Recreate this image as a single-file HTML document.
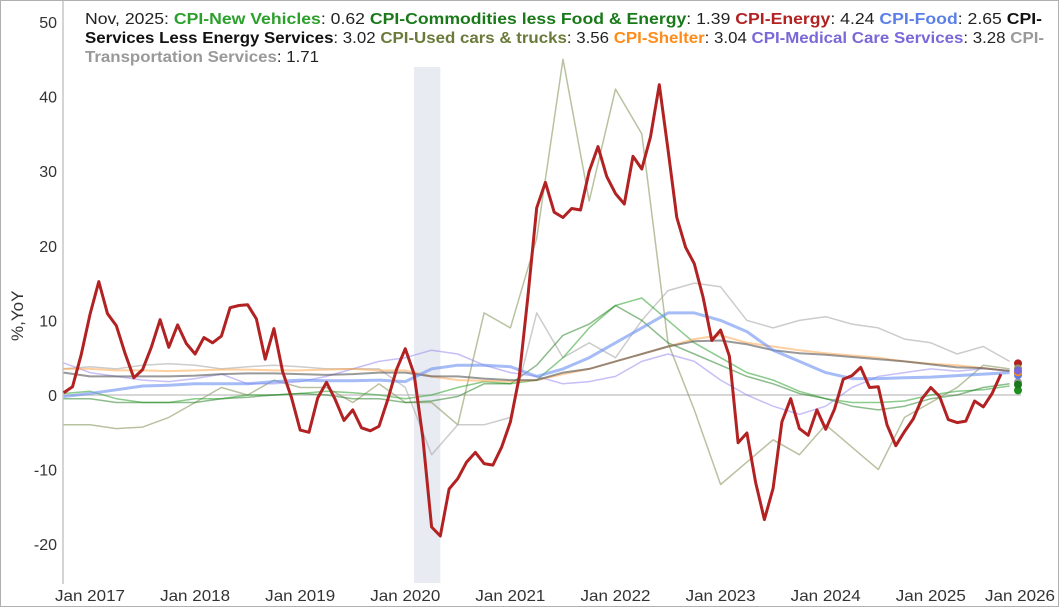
<!DOCTYPE html>
<html><head><meta charset="utf-8"><style>
html,body{margin:0;padding:0;background:#fff}
#wrap{position:relative;width:1057px;height:605px;border:1px solid #b0b0b0;overflow:hidden;font-family:"Liberation Sans",sans-serif}
</style></head><body>
<div id="wrap">
<svg id="chart" width="1057" height="605">
<g id="legend" font-family="Liberation Sans, sans-serif" font-size="15.5" fill="#222">
<text x="84" y="23" textLength="957" lengthAdjust="spacingAndGlyphs">Nov, 2025: <tspan font-weight="bold" fill="#2ca02c">CPI-New Vehicles</tspan>: 0.62 <tspan font-weight="bold" fill="#1a7a1a">CPI-Commodities less Food &amp; Energy</tspan>: 1.39 <tspan font-weight="bold" fill="#b22222">CPI-Energy</tspan>: 4.24 <tspan font-weight="bold" fill="#5b7fe8">CPI-Food</tspan>: 2.65 <tspan font-weight="bold" fill="#111">CPI-</tspan></text>
<text x="84" y="42" textLength="959" lengthAdjust="spacingAndGlyphs"><tspan font-weight="bold" fill="#111">Services Less Energy Services</tspan>: 3.02 <tspan font-weight="bold" fill="#6b7a3a">CPI-Used cars &amp; trucks</tspan>: 3.56 <tspan font-weight="bold" fill="#ff8c1a">CPI-Shelter</tspan>: 3.04 <tspan font-weight="bold" fill="#7b68d8">CPI-Medical Care Services</tspan>: 3.28 <tspan font-weight="bold" fill="#999">CPI-</tspan></text>
<text x="84" y="61" textLength="234" lengthAdjust="spacingAndGlyphs"><tspan font-weight="bold" fill="#999">Transportation Services</tspan>: 1.71</text>
</g>
</svg>
</div>
<script>
// months since Jan 2017 for first point (Oct 2016 = -3)
const startMonth = -3;
const yTicks = [-20,-10,0,10,20,30,40,50];
const xTickLabels = ["Jan 2017","Jan 2018","Jan 2019","Jan 2020","Jan 2021","Jan 2022","Jan 2023","Jan 2024","Jan 2025","Jan 2026"];
const energy = [0.3,1.1,5.4,10.8,15.2,10.9,9.3,5.6,2.3,3.4,6.4,10.1,6.4,9.4,6.9,5.5,7.7,7.0,7.9,11.7,12.0,12.1,10.2,4.8,8.9,3.1,-0.3,-4.7,-5.0,-0.4,1.7,-0.6,-3.4,-2.0,-4.4,-4.8,-4.2,-0.6,3.4,6.2,2.8,-5.7,-17.7,-18.9,-12.6,-11.2,-9.0,-7.7,-9.2,-9.4,-7.0,-3.6,2.4,13.2,25.1,28.5,24.5,23.8,25.0,24.8,30.0,33.3,29.3,27.0,25.6,32.0,30.3,34.6,41.6,32.9,23.8,19.8,17.6,13.1,7.3,8.7,5.2,-6.4,-5.1,-11.7,-16.7,-12.5,-3.6,-0.5,-4.5,-5.4,-2.0,-4.6,-1.9,2.1,2.6,3.7,1.0,1.1,-4.0,-6.8,-4.9,-3.2,-0.5,1.0,-0.2,-3.3,-3.7,-3.5,-0.8,-1.6,0.2,2.8];
// quarterly series: Oct 2016, Jan 2017, ... Jul 2025, then last point
const usedCars = [-4,-4,-4.5,-4.3,-3,-1,1,0,2,1,1,-1,1.5,-1,-1,-4,11,9,21,45,26,41,35,7,-2,-12,-9,-6,-8,-4,-7,-10,-3,-1,1,4,3.5];
const transport = [3.5,3.8,3.5,4,4.2,4,3.5,3.8,4,3.8,3.5,3.5,3.5,1,-8,-4,-4,-3,11,5,7,5,10,14,15,14.5,10,9,10,10.5,9.5,9,7.5,7,5.5,6.5,4.5];
const newVehicles = [0.2,0.5,-0.5,-1,-1,-0.5,-0.5,0,0,0.2,0.5,0.3,0,-0.5,0,1,1.8,1.5,2,5,9,12,13,10,7,5,3,2,0.5,-0.5,-1,-1,-0.8,0,0.5,0.7,1.2];
const commodities = [-0.5,-0.5,-1,-1,-1,-1,-0.5,-0.3,0,0.2,0,-0.5,-0.5,-1,-0.8,-0.2,1.5,1.5,4,8,9.5,12,10,7,5.5,4,2.5,1.5,0.2,-0.5,-1.5,-2,-1.5,-0.5,0,1,1.5];
const food = [-0.2,0.2,0.7,1.2,1.3,1.5,1.5,1.5,1.8,2,1.9,1.9,2,1.8,3.5,4,4,3.8,2.5,3.5,5,7,9,11,11,10,8.5,6,4.5,3,2.2,2.2,2.3,2.4,2.6,2.8,3];
const services = [3,2.5,2.5,2.5,2.5,2.6,2.8,2.9,2.9,2.8,2.7,2.8,3,3,2.5,2.5,2.2,2,2,3,3.5,4.5,5.5,6.5,7.2,7.3,6.8,6,5.6,5.4,5.1,4.8,4.5,4.1,3.7,3.6,3.2];
const shelter = [3.5,3.5,3.3,3.3,3.2,3.3,3.4,3.4,3.3,3.3,3.4,3.5,3.3,3.3,2.5,2,1.9,1.8,2,2.8,3.5,4.5,5.5,6.5,7.5,8,7,6.5,6,5.6,5.3,5,4.5,4.2,4,3.6,3.2];
const medical = [4.3,3,2.5,2,1.8,2.2,2.8,1.5,1.5,1.8,2.5,3.5,4.5,5,6,5.5,4,3,2.5,1.5,1.8,2.5,4.5,5.5,4.5,2,0,-1.5,-2.6,-1.5,1,2.5,3,3.5,3.2,3.5,3.3];
const endValues = [4.24,3.56,1.71,0.62,1.39,2.65,3.02,3.04,3.28];

const NS="http://www.w3.org/2000/svg";
const svg=document.getElementById('chart');
const legendG=document.getElementById('legend');
const x0=89, pxMonth=105.1/12, yZero=394, pxUnit=7.46;
const xS=m=>x0+m*pxMonth;
const yS=v=>yZero-v*pxUnit;
function mk(tag,attrs){const e=document.createElementNS(NS,tag);for(const k in attrs)e.setAttribute(k,attrs[k]);svg.insertBefore(e,legendG);return e;}

const rec=mk('rect',{x:xS(37),y:66,width:xS(40)-xS(37),height:516,fill:'#e8ebf2'});



const yAxis=mk('line',{x1:62,y1:0,x2:62,y2:583,stroke:'#aaa','stroke-width':1});


const zl=mk('line',{x1:62,y1:yS(0),x2:1020,y2:yS(0),stroke:'#c8c8c8','stroke-width':1.5});


yTicks.forEach(v=>{
  const t=mk('text',{x:56,y:yS(v)+6,'text-anchor':'end','font-size':16,fill:'#333','font-family':'Liberation Sans, sans-serif'});
  t.textContent=v;
  
  
});
const yt=mk('text',{x:0,y:0,transform:'translate(22,340) rotate(-90)','font-size':17,fill:'#333','font-family':'Liberation Sans, sans-serif'});
yt.textContent='%,YoY';


xTickLabels.forEach((l,i)=>{
  let cx=xS(i*12); if(cx>1019)cx=1019;
  const t=mk('text',{x:cx,y:600,'text-anchor':'middle','font-size':16,fill:'#333','font-family':'Liberation Sans, sans-serif','textLength':70,'lengthAdjust':'spacingAndGlyphs'});
  t.textContent=l;
  
  
});

function drawLine(vals,step,color,w,op,name){
  const pts=vals.map((v,i)=>{let m=startMonth+i*step; if(m>105)m=105; return xS(m).toFixed(1)+','+yS(v).toFixed(1);}).join(' ');
  const p=mk('polyline',{points:pts,fill:'none',stroke:color,'stroke-width':w,'stroke-opacity':op,'stroke-linejoin':'round'});
  
  
}
drawLine(usedCars,3,'#8a9a60',1.5,0.6,'used-cars-line');
drawLine(transport,3,'#aaaaaa',1.5,0.6,'transportation-line');
drawLine(newVehicles,3,'#2ca02c',1.5,0.55,'new-vehicles-line');
drawLine(commodities,3,'#1a7a1a',1.5,0.5,'commodities-line');
drawLine(medical,3,'#9080f0',1.5,0.5,'medical-line');
drawLine(shelter,3,'#ffa040',2,0.5,'shelter-line');
drawLine(services,3,'#555555',2,0.6,'services-line');
drawLine(food,3,'#6b8ff0',3,0.6,'food-line');
drawLine(energy,1,'#b22222',3,1,'energy-line');

const dotColors=['#b22222','#8a9a60','#999','#1f8f1f','#1a7a1a','#5b7fe8','#666','#ff8c1a','#7b68d8'];
endValues.forEach((v,i)=>{
  const c=mk('circle',{cx:1017,cy:yS(v),r:4,fill:dotColors[i]});
  
  
});
</script>
</body></html>
